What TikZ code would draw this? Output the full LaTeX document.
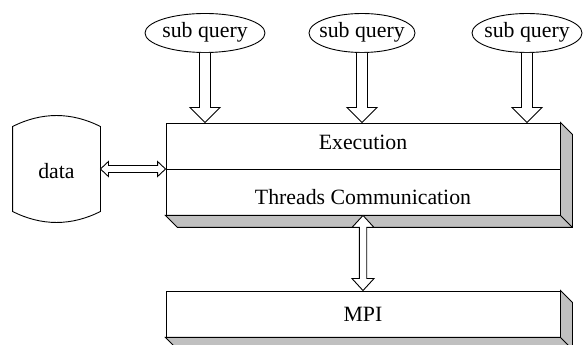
\documentclass[tikz,border=0pt]{standalone}
\usepackage{fontspec}
\setmainfont{Liberation Serif}
\usetikzlibrary{shapes.geometric,calc}
\definecolor{sidegray}{RGB}{192,192,192}
\newcommand{\slabsides}[1]{%
  \draw[fill=sidegray, line join=miter] (#1.south west) -- ($(#1.south west)+(12pt,-12pt)$) -- ($(#1.south east)+(12pt,-12pt)$) -- ($(#1.north east)+(12pt,-12pt)$) -- (#1.north east) -- (#1.south east) -- cycle;
  \draw (#1.south east) -- ($(#1.south east)+(12pt,-12pt)$);}
\newcommand{\queryarrow}[1]{%
  \draw[hollow] let \p1=(#1.south), \p2=(#1.south |- main.north) in
    (\x1-5.5pt,\y1) -- (\x1-5.5pt,\y2+15pt) -- (\x1-15pt,\y2+15pt) -- (\x1,\y2) -- (\x1+15pt,\y2+15pt) -- (\x1+5.5pt,\y2+15pt) -- (\x1+5.5pt,\y1);}
\begin{document}
\begin{tikzpicture}[x=1pt,y=1pt,line width=0.9pt,
  every node/.style={font=\fontsize{21.8}{26}\selectfont},
  slabbox/.style={draw, fill=white, rectangle, inner sep=0pt, minimum width=394pt},
  qell/.style={draw, fill=white, ellipse, inner sep=0pt, minimum height=39pt},
  hollow/.style={draw, fill=white, line join=miter},
  labeltext/.style={anchor=base, inner sep=0pt}]
\useasboundingbox (0,0) rectangle (584,345);
% main block
\node[slabbox, minimum height=92pt] (main) at (363,176) {};
\slabsides{main}
\draw (main.west) -- (main.east);
\node[labeltext] (exec) at ($(main.center)+(0,19.5)$) {Execution};
\node[labeltext] (comm) at ($(main.center)+(0,-35.3)$) {Threads Communication};
% MPI block
\node[slabbox, minimum height=46pt] (mpi) at (363,31) {};
\slabsides{mpi}
\node[labeltext] (mpitext) at ($(mpi.center)+(0,-7.7)$) {MPI};
% sub queries
\node[qell, minimum width=120pt] (s1) at (205,312) {};
\node[qell, minimum width=106pt] (s2) at (362,312) {};
\node[qell, minimum width=110pt] (s3) at (527,312) {};
\foreach \s in {s1,s2,s3}{
  \node[labeltext] (\s t) at ($(\s.center)+(0,-5)$) {sub query};
}
\queryarrow{s1}
\queryarrow{s2}
\queryarrow{s3}
% data cylinder
\node[inner sep=0pt, minimum width=87pt, minimum height=84pt] (data) at (56.5,176) {};
\draw (data.north west) -- (data.south west)
  .. controls ($(data.south west)+(29,-14.7)$) and ($(data.south east)+(-29,-14.7)$) .. (data.south east)
  -- (data.north east)
  .. controls ($(data.north east)+(-29,14.7)$) and ($(data.north west)+(29,14.7)$) .. (data.north west) -- cycle;
\node[labeltext] (datatext) at ($(data.center)+(0,-10)$) {data};
% data <-> main
\draw[hollow] let \p1=(data.east), \p2=(main.west) in
  (\x1,\y1) -- (\x1+8pt,\y1+7.5pt) -- (\x1+8pt,\y1+3.5pt) -- (\x2-8pt,\y1+3.5pt) -- (\x2-8pt,\y1+7.5pt) -- (\x2,\y1)
  -- (\x2-8pt,\y1-7.5pt) -- (\x2-8pt,\y1-3.5pt) -- (\x1+8pt,\y1-3.5pt) -- (\x1+8pt,\y1-7.5pt) -- cycle;
% main <-> MPI
\draw[hollow] let \p1=(main.south), \p2=(mpi.north) in
  (\x1,\y1) -- (\x1+11pt,\y1-12pt) -- (\x1+3.7pt,\y1-12pt) -- (\x1+3.7pt,\y2+12pt) -- (\x1+11pt,\y2+12pt) -- (\x2,\y2)
  -- (\x1-11pt,\y2+12pt) -- (\x1-3.7pt,\y2+12pt) -- (\x1-3.7pt,\y1-12pt) -- (\x1-11pt,\y1-12pt) -- cycle;
\end{tikzpicture}
\end{document}
